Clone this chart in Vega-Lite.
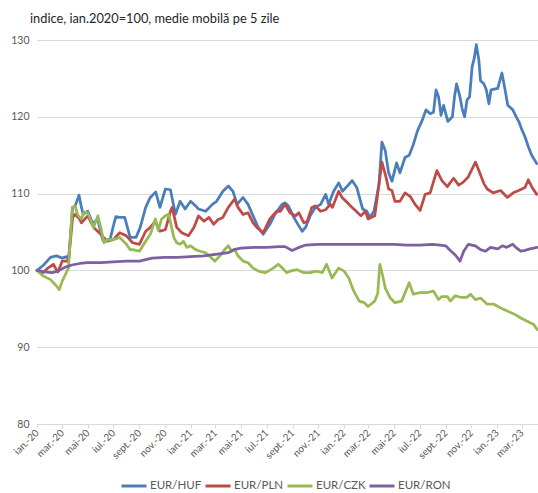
{
  "$schema": "https://vega.github.io/schema/vega-lite/v6.json",
  "width": 501,
  "height": 384,
  "autosize": {"type": "none"},
  "padding": {"left": 37, "top": 40, "right": 0, "bottom": 69},
  "background": "white",
  "config": {"font": "Lato", "view": {"stroke": null}},
  "title": {"text": "indice, ian.2020=100, medie mobilă pe 5 zile", "anchor": "start", "frame": "group", "dx": -7, "offset": 9, "fontSize": 12.8, "fontWeight": "normal", "color": "#262626", "font": "Lato"},
  "data": {"values": [
{"d":"2020-01-01","s":"EUR/HUF","v":100},{"d":"2020-01-15","s":"EUR/HUF","v":100.6},{"d":"2020-02-02","s":"EUR/HUF","v":101.7},{"d":"2020-02-16","s":"EUR/HUF","v":101.9},{"d":"2020-03-01","s":"EUR/HUF","v":101.6},{"d":"2020-03-12","s":"EUR/HUF","v":101.8},{"d":"2020-03-16","s":"EUR/HUF","v":101.2},{"d":"2020-03-26","s":"EUR/HUF","v":108.2},{"d":"2020-04-01","s":"EUR/HUF","v":108.4},{"d":"2020-04-10","s":"EUR/HUF","v":109.8},{"d":"2020-04-16","s":"EUR/HUF","v":108.2},{"d":"2020-04-20","s":"EUR/HUF","v":107.3},{"d":"2020-05-01","s":"EUR/HUF","v":107.7},{"d":"2020-05-13","s":"EUR/HUF","v":106.1},{"d":"2020-05-25","s":"EUR/HUF","v":106.7},{"d":"2020-06-01","s":"EUR/HUF","v":104.9},{"d":"2020-06-07","s":"EUR/HUF","v":103.8},{"d":"2020-06-16","s":"EUR/HUF","v":104},{"d":"2020-06-23","s":"EUR/HUF","v":104},{"d":"2020-07-01","s":"EUR/HUF","v":105.8},{"d":"2020-07-07","s":"EUR/HUF","v":107},{"d":"2020-07-16","s":"EUR/HUF","v":106.9},{"d":"2020-07-28","s":"EUR/HUF","v":106.9},{"d":"2020-08-10","s":"EUR/HUF","v":104.3},{"d":"2020-08-24","s":"EUR/HUF","v":104.3},{"d":"2020-09-03","s":"EUR/HUF","v":105.6},{"d":"2020-09-16","s":"EUR/HUF","v":108.2},{"d":"2020-09-27","s":"EUR/HUF","v":109.5},{"d":"2020-10-10","s":"EUR/HUF","v":110.2},{"d":"2020-10-20","s":"EUR/HUF","v":108.2},{"d":"2020-11-02","s":"EUR/HUF","v":110.6},{"d":"2020-11-14","s":"EUR/HUF","v":110.5},{"d":"2020-11-26","s":"EUR/HUF","v":107.3},{"d":"2020-12-07","s":"EUR/HUF","v":109},{"d":"2020-12-19","s":"EUR/HUF","v":108},{"d":"2021-01-01","s":"EUR/HUF","v":109},{"d":"2021-01-13","s":"EUR/HUF","v":108.4},{"d":"2021-01-20","s":"EUR/HUF","v":108},{"d":"2021-02-06","s":"EUR/HUF","v":107.7},{"d":"2021-02-22","s":"EUR/HUF","v":108.6},{"d":"2021-03-04","s":"EUR/HUF","v":109},{"d":"2021-03-19","s":"EUR/HUF","v":110.3},{"d":"2021-04-01","s":"EUR/HUF","v":111},{"d":"2021-04-12","s":"EUR/HUF","v":110.3},{"d":"2021-04-22","s":"EUR/HUF","v":108.6},{"d":"2021-05-06","s":"EUR/HUF","v":109.5},{"d":"2021-05-18","s":"EUR/HUF","v":108.6},{"d":"2021-05-30","s":"EUR/HUF","v":107.1},{"d":"2021-06-11","s":"EUR/HUF","v":105.6},{"d":"2021-06-23","s":"EUR/HUF","v":104.7},{"d":"2021-07-09","s":"EUR/HUF","v":106},{"d":"2021-07-21","s":"EUR/HUF","v":107.3},{"d":"2021-08-07","s":"EUR/HUF","v":108.6},{"d":"2021-08-14","s":"EUR/HUF","v":108.8},{"d":"2021-08-22","s":"EUR/HUF","v":108.4},{"d":"2021-09-04","s":"EUR/HUF","v":106.9},{"d":"2021-09-16","s":"EUR/HUF","v":105.8},{"d":"2021-09-24","s":"EUR/HUF","v":105.1},{"d":"2021-10-02","s":"EUR/HUF","v":105.6},{"d":"2021-10-13","s":"EUR/HUF","v":107.1},{"d":"2021-10-25","s":"EUR/HUF","v":108.2},{"d":"2021-11-07","s":"EUR/HUF","v":108.6},{"d":"2021-11-19","s":"EUR/HUF","v":109.9},{"d":"2021-11-26","s":"EUR/HUF","v":108.6},{"d":"2021-12-08","s":"EUR/HUF","v":110.3},{"d":"2021-12-20","s":"EUR/HUF","v":111.4},{"d":"2021-12-29","s":"EUR/HUF","v":110.3},{"d":"2022-01-10","s":"EUR/HUF","v":111},{"d":"2022-01-21","s":"EUR/HUF","v":111.7},{"d":"2022-02-01","s":"EUR/HUF","v":110.8},{"d":"2022-02-15","s":"EUR/HUF","v":108},{"d":"2022-02-25","s":"EUR/HUF","v":107.7},{"d":"2022-03-04","s":"EUR/HUF","v":106.9},{"d":"2022-03-14","s":"EUR/HUF","v":107.7},{"d":"2022-03-26","s":"EUR/HUF","v":111.2},{"d":"2022-04-02","s":"EUR/HUF","v":116.7},{"d":"2022-04-10","s":"EUR/HUF","v":115.6},{"d":"2022-04-18","s":"EUR/HUF","v":112.7},{"d":"2022-04-26","s":"EUR/HUF","v":111.6},{"d":"2022-05-07","s":"EUR/HUF","v":114},{"d":"2022-05-15","s":"EUR/HUF","v":112.7},{"d":"2022-05-27","s":"EUR/HUF","v":114.7},{"d":"2022-06-06","s":"EUR/HUF","v":115},{"d":"2022-06-16","s":"EUR/HUF","v":116.4},{"d":"2022-06-26","s":"EUR/HUF","v":118.2},{"d":"2022-07-06","s":"EUR/HUF","v":119.4},{"d":"2022-07-16","s":"EUR/HUF","v":120.9},{"d":"2022-07-26","s":"EUR/HUF","v":120.4},{"d":"2022-08-03","s":"EUR/HUF","v":120.6},{"d":"2022-08-09","s":"EUR/HUF","v":123.5},{"d":"2022-08-15","s":"EUR/HUF","v":122.6},{"d":"2022-08-21","s":"EUR/HUF","v":120.2},{"d":"2022-08-27","s":"EUR/HUF","v":121.5},{"d":"2022-09-06","s":"EUR/HUF","v":119.4},{"d":"2022-09-17","s":"EUR/HUF","v":120},{"d":"2022-09-22","s":"EUR/HUF","v":122.6},{"d":"2022-09-27","s":"EUR/HUF","v":124.3},{"d":"2022-10-05","s":"EUR/HUF","v":122.6},{"d":"2022-10-10","s":"EUR/HUF","v":121.1},{"d":"2022-10-16","s":"EUR/HUF","v":120},{"d":"2022-10-22","s":"EUR/HUF","v":122.2},{"d":"2022-10-28","s":"EUR/HUF","v":122.6},{"d":"2022-11-03","s":"EUR/HUF","v":126.5},{"d":"2022-11-08","s":"EUR/HUF","v":127.6},{"d":"2022-11-13","s":"EUR/HUF","v":129.4},{"d":"2022-11-19","s":"EUR/HUF","v":127.4},{"d":"2022-11-23","s":"EUR/HUF","v":124.7},{"d":"2022-12-01","s":"EUR/HUF","v":124.3},{"d":"2022-12-07","s":"EUR/HUF","v":123.5},{"d":"2022-12-13","s":"EUR/HUF","v":121.7},{"d":"2022-12-18","s":"EUR/HUF","v":123.5},{"d":"2023-01-03","s":"EUR/HUF","v":123.7},{"d":"2023-01-13","s":"EUR/HUF","v":125.7},{"d":"2023-01-20","s":"EUR/HUF","v":123.7},{"d":"2023-01-27","s":"EUR/HUF","v":121.5},{"d":"2023-02-08","s":"EUR/HUF","v":120.9},{"d":"2023-02-18","s":"EUR/HUF","v":119.8},{"d":"2023-02-23","s":"EUR/HUF","v":119.3},{"d":"2023-03-01","s":"EUR/HUF","v":118.4},{"d":"2023-03-09","s":"EUR/HUF","v":117.4},{"d":"2023-03-17","s":"EUR/HUF","v":116.1},{"d":"2023-03-25","s":"EUR/HUF","v":115},{"d":"2023-04-06","s":"EUR/HUF","v":113.9},
{"d":"2020-01-01","s":"EUR/PLN","v":100},{"d":"2020-01-15","s":"EUR/PLN","v":99.7},{"d":"2020-01-27","s":"EUR/PLN","v":100.3},{"d":"2020-02-09","s":"EUR/PLN","v":100.8},{"d":"2020-02-16","s":"EUR/PLN","v":100.1},{"d":"2020-02-20","s":"EUR/PLN","v":99.8},{"d":"2020-03-01","s":"EUR/PLN","v":101.2},{"d":"2020-03-16","s":"EUR/PLN","v":101.2},{"d":"2020-03-26","s":"EUR/PLN","v":106.9},{"d":"2020-04-01","s":"EUR/PLN","v":107.3},{"d":"2020-04-10","s":"EUR/PLN","v":106.8},{"d":"2020-04-16","s":"EUR/PLN","v":106.2},{"d":"2020-05-01","s":"EUR/PLN","v":107.1},{"d":"2020-05-15","s":"EUR/PLN","v":105.6},{"d":"2020-06-01","s":"EUR/PLN","v":104.7},{"d":"2020-06-16","s":"EUR/PLN","v":103.8},{"d":"2020-07-01","s":"EUR/PLN","v":104},{"d":"2020-07-16","s":"EUR/PLN","v":104.9},{"d":"2020-08-01","s":"EUR/PLN","v":104.5},{"d":"2020-08-16","s":"EUR/PLN","v":103.6},{"d":"2020-09-01","s":"EUR/PLN","v":103.4},{"d":"2020-09-16","s":"EUR/PLN","v":105.1},{"d":"2020-09-27","s":"EUR/PLN","v":105.6},{"d":"2020-10-09","s":"EUR/PLN","v":106.4},{"d":"2020-10-20","s":"EUR/PLN","v":105.1},{"d":"2020-11-02","s":"EUR/PLN","v":105.3},{"d":"2020-11-14","s":"EUR/PLN","v":107.7},{"d":"2020-11-18","s":"EUR/PLN","v":108.2},{"d":"2020-11-29","s":"EUR/PLN","v":105.6},{"d":"2020-12-11","s":"EUR/PLN","v":104.9},{"d":"2020-12-27","s":"EUR/PLN","v":104.5},{"d":"2021-01-09","s":"EUR/PLN","v":105.6},{"d":"2021-01-20","s":"EUR/PLN","v":107.1},{"d":"2021-02-02","s":"EUR/PLN","v":106.4},{"d":"2021-02-14","s":"EUR/PLN","v":106.9},{"d":"2021-02-25","s":"EUR/PLN","v":106},{"d":"2021-03-07","s":"EUR/PLN","v":106.6},{"d":"2021-03-19","s":"EUR/PLN","v":106.9},{"d":"2021-04-01","s":"EUR/PLN","v":108.2},{"d":"2021-04-16","s":"EUR/PLN","v":109.3},{"d":"2021-04-24","s":"EUR/PLN","v":108.2},{"d":"2021-05-06","s":"EUR/PLN","v":107.3},{"d":"2021-05-18","s":"EUR/PLN","v":107.5},{"d":"2021-05-30","s":"EUR/PLN","v":106.2},{"d":"2021-06-08","s":"EUR/PLN","v":105.6},{"d":"2021-06-23","s":"EUR/PLN","v":104.9},{"d":"2021-07-09","s":"EUR/PLN","v":106.7},{"d":"2021-07-25","s":"EUR/PLN","v":107.7},{"d":"2021-08-03","s":"EUR/PLN","v":107.7},{"d":"2021-08-14","s":"EUR/PLN","v":108.6},{"d":"2021-08-26","s":"EUR/PLN","v":107.5},{"d":"2021-09-08","s":"EUR/PLN","v":107.1},{"d":"2021-09-16","s":"EUR/PLN","v":107.5},{"d":"2021-09-28","s":"EUR/PLN","v":106.2},{"d":"2021-10-06","s":"EUR/PLN","v":106.4},{"d":"2021-10-17","s":"EUR/PLN","v":108.2},{"d":"2021-10-25","s":"EUR/PLN","v":108.4},{"d":"2021-11-07","s":"EUR/PLN","v":107.7},{"d":"2021-11-19","s":"EUR/PLN","v":107.9},{"d":"2021-11-30","s":"EUR/PLN","v":108.6},{"d":"2021-12-05","s":"EUR/PLN","v":108.2},{"d":"2021-12-20","s":"EUR/PLN","v":110.3},{"d":"2021-12-28","s":"EUR/PLN","v":109.5},{"d":"2022-01-10","s":"EUR/PLN","v":108.8},{"d":"2022-01-21","s":"EUR/PLN","v":108.2},{"d":"2022-01-29","s":"EUR/PLN","v":107.8},{"d":"2022-02-11","s":"EUR/PLN","v":107.1},{"d":"2022-02-22","s":"EUR/PLN","v":107.7},{"d":"2022-02-28","s":"EUR/PLN","v":106.7},{"d":"2022-03-16","s":"EUR/PLN","v":107.1},{"d":"2022-03-26","s":"EUR/PLN","v":111.2},{"d":"2022-04-02","s":"EUR/PLN","v":114.1},{"d":"2022-04-12","s":"EUR/PLN","v":112.1},{"d":"2022-04-18","s":"EUR/PLN","v":110.6},{"d":"2022-04-26","s":"EUR/PLN","v":110.4},{"d":"2022-05-03","s":"EUR/PLN","v":109},{"d":"2022-05-15","s":"EUR/PLN","v":109},{"d":"2022-05-27","s":"EUR/PLN","v":110.1},{"d":"2022-06-09","s":"EUR/PLN","v":109.6},{"d":"2022-06-20","s":"EUR/PLN","v":108.6},{"d":"2022-07-02","s":"EUR/PLN","v":107.8},{"d":"2022-07-14","s":"EUR/PLN","v":109.9},{"d":"2022-07-26","s":"EUR/PLN","v":110.1},{"d":"2022-08-11","s":"EUR/PLN","v":113},{"d":"2022-08-23","s":"EUR/PLN","v":111.7},{"d":"2022-09-05","s":"EUR/PLN","v":110.9},{"d":"2022-09-10","s":"EUR/PLN","v":111.3},{"d":"2022-09-20","s":"EUR/PLN","v":112},{"d":"2022-10-02","s":"EUR/PLN","v":111.1},{"d":"2022-10-13","s":"EUR/PLN","v":111.5},{"d":"2022-10-25","s":"EUR/PLN","v":112.2},{"d":"2022-11-11","s":"EUR/PLN","v":114.1},{"d":"2022-11-19","s":"EUR/PLN","v":113},{"d":"2022-12-01","s":"EUR/PLN","v":111.3},{"d":"2022-12-09","s":"EUR/PLN","v":110.6},{"d":"2022-12-23","s":"EUR/PLN","v":110.1},{"d":"2023-01-10","s":"EUR/PLN","v":110.4},{"d":"2023-01-26","s":"EUR/PLN","v":109.5},{"d":"2023-02-09","s":"EUR/PLN","v":110.1},{"d":"2023-02-22","s":"EUR/PLN","v":110.4},{"d":"2023-03-09","s":"EUR/PLN","v":110.8},{"d":"2023-03-17","s":"EUR/PLN","v":111.8},{"d":"2023-03-26","s":"EUR/PLN","v":110.8},{"d":"2023-04-06","s":"EUR/PLN","v":109.9},
{"d":"2020-01-01","s":"EUR/CZK","v":100},{"d":"2020-01-15","s":"EUR/CZK","v":99.3},{"d":"2020-02-02","s":"EUR/CZK","v":98.8},{"d":"2020-02-16","s":"EUR/CZK","v":98},{"d":"2020-02-23","s":"EUR/CZK","v":97.5},{"d":"2020-03-01","s":"EUR/CZK","v":98.6},{"d":"2020-03-09","s":"EUR/CZK","v":99.5},{"d":"2020-03-16","s":"EUR/CZK","v":100.3},{"d":"2020-03-25","s":"EUR/CZK","v":108.2},{"d":"2020-04-01","s":"EUR/CZK","v":108.4},{"d":"2020-04-07","s":"EUR/CZK","v":107.2},{"d":"2020-04-16","s":"EUR/CZK","v":106.7},{"d":"2020-04-22","s":"EUR/CZK","v":107.6},{"d":"2020-05-01","s":"EUR/CZK","v":107.5},{"d":"2020-05-15","s":"EUR/CZK","v":105.6},{"d":"2020-05-25","s":"EUR/CZK","v":107.1},{"d":"2020-06-01","s":"EUR/CZK","v":105.6},{"d":"2020-06-09","s":"EUR/CZK","v":103.6},{"d":"2020-06-16","s":"EUR/CZK","v":104},{"d":"2020-07-01","s":"EUR/CZK","v":104},{"d":"2020-07-16","s":"EUR/CZK","v":104.3},{"d":"2020-08-01","s":"EUR/CZK","v":103.4},{"d":"2020-08-10","s":"EUR/CZK","v":102.7},{"d":"2020-08-16","s":"EUR/CZK","v":102.7},{"d":"2020-09-01","s":"EUR/CZK","v":102.5},{"d":"2020-09-16","s":"EUR/CZK","v":103.8},{"d":"2020-09-27","s":"EUR/CZK","v":104.7},{"d":"2020-10-09","s":"EUR/CZK","v":106.7},{"d":"2020-10-16","s":"EUR/CZK","v":105.2},{"d":"2020-10-24","s":"EUR/CZK","v":106.7},{"d":"2020-11-02","s":"EUR/CZK","v":107.1},{"d":"2020-11-10","s":"EUR/CZK","v":107.3},{"d":"2020-11-16","s":"EUR/CZK","v":105.8},{"d":"2020-11-22","s":"EUR/CZK","v":104.3},{"d":"2020-11-29","s":"EUR/CZK","v":103.6},{"d":"2020-12-07","s":"EUR/CZK","v":103.4},{"d":"2020-12-15","s":"EUR/CZK","v":103.8},{"d":"2020-12-23","s":"EUR/CZK","v":103},{"d":"2021-01-01","s":"EUR/CZK","v":103.2},{"d":"2021-01-13","s":"EUR/CZK","v":102.7},{"d":"2021-01-24","s":"EUR/CZK","v":102.5},{"d":"2021-02-06","s":"EUR/CZK","v":102.3},{"d":"2021-02-18","s":"EUR/CZK","v":101.7},{"d":"2021-02-28","s":"EUR/CZK","v":101.2},{"d":"2021-03-12","s":"EUR/CZK","v":101.9},{"d":"2021-03-23","s":"EUR/CZK","v":102.7},{"d":"2021-04-01","s":"EUR/CZK","v":103.2},{"d":"2021-04-09","s":"EUR/CZK","v":102.5},{"d":"2021-04-16","s":"EUR/CZK","v":102.7},{"d":"2021-04-24","s":"EUR/CZK","v":101.9},{"d":"2021-05-06","s":"EUR/CZK","v":101.2},{"d":"2021-05-18","s":"EUR/CZK","v":101},{"d":"2021-05-30","s":"EUR/CZK","v":100.3},{"d":"2021-06-12","s":"EUR/CZK","v":99.9},{"d":"2021-06-27","s":"EUR/CZK","v":99.7},{"d":"2021-07-05","s":"EUR/CZK","v":99.9},{"d":"2021-07-17","s":"EUR/CZK","v":100.3},{"d":"2021-07-29","s":"EUR/CZK","v":100.8},{"d":"2021-08-10","s":"EUR/CZK","v":100.2},{"d":"2021-08-18","s":"EUR/CZK","v":99.7},{"d":"2021-08-26","s":"EUR/CZK","v":99.9},{"d":"2021-09-12","s":"EUR/CZK","v":100.1},{"d":"2021-09-28","s":"EUR/CZK","v":99.7},{"d":"2021-10-13","s":"EUR/CZK","v":99.7},{"d":"2021-10-29","s":"EUR/CZK","v":99.9},{"d":"2021-11-11","s":"EUR/CZK","v":99.7},{"d":"2021-11-21","s":"EUR/CZK","v":100.8},{"d":"2021-12-04","s":"EUR/CZK","v":99},{"d":"2021-12-20","s":"EUR/CZK","v":100.3},{"d":"2022-01-02","s":"EUR/CZK","v":99.9},{"d":"2022-01-13","s":"EUR/CZK","v":99},{"d":"2022-01-25","s":"EUR/CZK","v":97.3},{"d":"2022-02-07","s":"EUR/CZK","v":96},{"d":"2022-02-19","s":"EUR/CZK","v":95.8},{"d":"2022-02-28","s":"EUR/CZK","v":95.3},{"d":"2022-03-16","s":"EUR/CZK","v":96},{"d":"2022-03-23","s":"EUR/CZK","v":97},{"d":"2022-03-28","s":"EUR/CZK","v":100.8},{"d":"2022-04-03","s":"EUR/CZK","v":99.5},{"d":"2022-04-10","s":"EUR/CZK","v":97.7},{"d":"2022-04-22","s":"EUR/CZK","v":96.4},{"d":"2022-05-03","s":"EUR/CZK","v":95.8},{"d":"2022-05-19","s":"EUR/CZK","v":96},{"d":"2022-06-06","s":"EUR/CZK","v":98.4},{"d":"2022-06-16","s":"EUR/CZK","v":96.9},{"d":"2022-07-02","s":"EUR/CZK","v":97.1},{"d":"2022-07-18","s":"EUR/CZK","v":97.1},{"d":"2022-08-03","s":"EUR/CZK","v":97.3},{"d":"2022-08-15","s":"EUR/CZK","v":96.2},{"d":"2022-08-23","s":"EUR/CZK","v":96.6},{"d":"2022-09-05","s":"EUR/CZK","v":96.6},{"d":"2022-09-12","s":"EUR/CZK","v":96},{"d":"2022-09-24","s":"EUR/CZK","v":96.7},{"d":"2022-10-06","s":"EUR/CZK","v":96.5},{"d":"2022-10-22","s":"EUR/CZK","v":96.5},{"d":"2022-10-30","s":"EUR/CZK","v":96.9},{"d":"2022-11-11","s":"EUR/CZK","v":96.2},{"d":"2022-11-23","s":"EUR/CZK","v":96.4},{"d":"2022-12-09","s":"EUR/CZK","v":95.6},{"d":"2022-12-25","s":"EUR/CZK","v":95.6},{"d":"2023-01-10","s":"EUR/CZK","v":95.1},{"d":"2023-01-26","s":"EUR/CZK","v":94.7},{"d":"2023-02-12","s":"EUR/CZK","v":94.3},{"d":"2023-02-27","s":"EUR/CZK","v":93.8},{"d":"2023-03-13","s":"EUR/CZK","v":93.4},{"d":"2023-03-29","s":"EUR/CZK","v":93},{"d":"2023-04-07","s":"EUR/CZK","v":92.3},
{"d":"2020-01-01","s":"EUR/RON","v":100},{"d":"2020-01-19","s":"EUR/RON","v":99.8},{"d":"2020-02-06","s":"EUR/RON","v":99.7},{"d":"2020-02-20","s":"EUR/RON","v":99.9},{"d":"2020-03-07","s":"EUR/RON","v":100.4},{"d":"2020-03-24","s":"EUR/RON","v":100.7},{"d":"2020-04-12","s":"EUR/RON","v":100.9},{"d":"2020-05-01","s":"EUR/RON","v":101},{"d":"2020-06-01","s":"EUR/RON","v":101},{"d":"2020-07-01","s":"EUR/RON","v":101.1},{"d":"2020-08-01","s":"EUR/RON","v":101.2},{"d":"2020-09-01","s":"EUR/RON","v":101.2},{"d":"2020-10-01","s":"EUR/RON","v":101.6},{"d":"2020-11-01","s":"EUR/RON","v":101.7},{"d":"2020-12-01","s":"EUR/RON","v":101.7},{"d":"2021-01-01","s":"EUR/RON","v":101.8},{"d":"2021-02-01","s":"EUR/RON","v":101.9},{"d":"2021-03-01","s":"EUR/RON","v":102.1},{"d":"2021-04-01","s":"EUR/RON","v":102.3},{"d":"2021-04-14","s":"EUR/RON","v":102.7},{"d":"2021-05-01","s":"EUR/RON","v":102.9},{"d":"2021-06-01","s":"EUR/RON","v":103},{"d":"2021-07-01","s":"EUR/RON","v":103},{"d":"2021-08-01","s":"EUR/RON","v":103.1},{"d":"2021-08-14","s":"EUR/RON","v":103.1},{"d":"2021-08-31","s":"EUR/RON","v":102.6},{"d":"2021-09-12","s":"EUR/RON","v":102.9},{"d":"2021-10-02","s":"EUR/RON","v":103.3},{"d":"2021-11-01","s":"EUR/RON","v":103.4},{"d":"2021-12-01","s":"EUR/RON","v":103.4},{"d":"2022-01-01","s":"EUR/RON","v":103.4},{"d":"2022-02-01","s":"EUR/RON","v":103.4},{"d":"2022-03-01","s":"EUR/RON","v":103.4},{"d":"2022-04-01","s":"EUR/RON","v":103.4},{"d":"2022-05-01","s":"EUR/RON","v":103.4},{"d":"2022-06-01","s":"EUR/RON","v":103.3},{"d":"2022-07-01","s":"EUR/RON","v":103.3},{"d":"2022-08-01","s":"EUR/RON","v":103.4},{"d":"2022-08-19","s":"EUR/RON","v":103.3},{"d":"2022-09-01","s":"EUR/RON","v":103.2},{"d":"2022-09-12","s":"EUR/RON","v":102.6},{"d":"2022-09-24","s":"EUR/RON","v":102},{"d":"2022-10-05","s":"EUR/RON","v":101.2},{"d":"2022-10-14","s":"EUR/RON","v":102.5},{"d":"2022-10-25","s":"EUR/RON","v":103.4},{"d":"2022-11-11","s":"EUR/RON","v":103.2},{"d":"2022-11-23","s":"EUR/RON","v":102.7},{"d":"2022-12-05","s":"EUR/RON","v":102.5},{"d":"2022-12-17","s":"EUR/RON","v":103},{"d":"2023-01-03","s":"EUR/RON","v":102.8},{"d":"2023-01-14","s":"EUR/RON","v":103.2},{"d":"2023-01-24","s":"EUR/RON","v":103},{"d":"2023-02-08","s":"EUR/RON","v":103.4},{"d":"2023-02-15","s":"EUR/RON","v":103},{"d":"2023-02-27","s":"EUR/RON","v":102.5},{"d":"2023-03-09","s":"EUR/RON","v":102.6},{"d":"2023-03-21","s":"EUR/RON","v":102.8},{"d":"2023-04-07","s":"EUR/RON","v":103}
  ]},
  "mark": {"type": "line", "strokeWidth": 2.75, "strokeJoin": "round", "strokeCap": "round"},
  "encoding": {
    "x": {
      "field": "d", "type": "temporal",
      "scale": {"type": "utc", "domain": [{"year": 2020, "month": 1, "date": 1, "utc": true}, {"year": 2023, "month": 4, "date": 9, "utc": true}]},
      "axis": {
        "title": null, "grid": false,
        "tickCount": {"interval": "month", "step": 2},
        "labelExpr": "['ian.','feb.','mar.','apr.','mai','iun.','iul.','aug.','sept.','oct.','nov.','dec.'][utcmonth(datum.value)] + '-' + utcFormat(datum.value, '%y')",
        "labelAngle": -45, "labelAlign": "right", "labelBaseline": "middle",
        "labelOverlap": false, "labelFlush": false, "labelBound": false,
        "labelFontSize": 10, "labelColor": "#595959", "labelPadding": 3,
        "domainColor": "#d9d9d9", "tickColor": "#d9d9d9", "tickSize": 4
      }
    },
    "y": {
      "field": "v", "type": "quantitative",
      "scale": {"domain": [80, 130], "nice": false, "zero": false},
      "axis": {
        "title": null, "values": [80, 90, 100, 110, 120, 130],
        "domain": false, "ticks": false, "grid": true, "gridColor": "#d9d9d9", "gridWidth": 1,
        "labelFontSize": 10.5, "labelColor": "#595959", "labelPadding": 8
      }
    },
    "color": {
      "field": "s", "type": "nominal",
      "scale": {"domain": ["EUR/HUF", "EUR/PLN", "EUR/CZK", "EUR/RON"], "range": ["#4a7ebb", "#be4b48", "#98b954", "#7d60a0"]},
      "legend": {
        "orient": "none", "legendX": 83, "legendY": 432, "direction": "horizontal", "title": null,
        "symbolType": "stroke", "symbolSize": 625, "symbolStrokeWidth": 3,
        "labelFontSize": 11.5, "labelColor": "#595959", "labelOffset": 2, "columnPadding": -3
      }
    }
  }
}
